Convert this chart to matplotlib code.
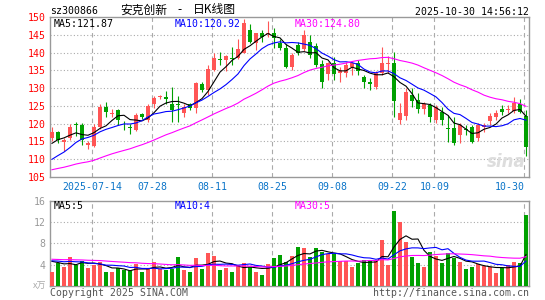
import matplotlib
matplotlib.use("Agg")
import matplotlib.pyplot as plt
import numpy as np

plt.rcParams["font.family"] = ["DejaVu Sans Mono"]

# daily candles, 2025-07-03 .. 2025-10-30 (80 trading days)
opens = [115.8, 117.6, 114.9, 115.8, 119.8, 119.6, 113.9, 113.7, 119.0, 124.6,
         122.6, 123.8, 120.0, 119.0, 118.3, 122.7, 120.9, 125.4, 127.5, 127.6,
         125.4, 125.6, 122.9, 125.4, 124.3, 131.2, 129.5, 135.1, 138.3, 137.9,
         138.6, 138.4, 140.0, 146.4, 142.8, 145.7, 145.2, 145.5, 142.7, 141.2,
         135.9, 142.2, 141.0, 143.1, 141.9, 136.8, 134.0, 137.2, 134.4, 134.2,
         136.1, 137.2, 133.2, 131.8, 130.2, 134.2, 136.9, 137.2, 121.0, 122.1,
         128.1, 126.7, 124.0, 125.2, 121.0, 123.4, 118.8, 118.7, 116.8, 118.5,
         119.1, 115.8, 119.0, 120.8, 121.8, 124.0, 123.8, 123.6, 125.5, 122.1]
highs = [118.9, 117.8, 116.0, 119.8, 120.4, 120.2, 115.0, 119.8, 125.4, 126.0,
         124.1, 124.2, 120.8, 119.9, 123.0, 123.0, 125.5, 127.8, 128.2, 129.3,
         130.4, 127.9, 125.4, 125.7, 131.8, 131.8, 136.5, 139.8, 140.3, 139.3,
         141.5, 143.8, 149.4, 148.1, 145.7, 146.4, 149.0, 146.9, 143.8, 142.6,
         139.8, 143.1, 146.5, 145.0, 142.7, 138.0, 137.5, 138.9, 136.1, 137.5,
         137.5, 138.0, 133.7, 132.8, 134.7, 141.7, 139.1, 140.3, 125.7, 130.0,
         130.0, 128.5, 126.2, 125.7, 125.2, 124.8, 122.4, 121.9, 120.1, 119.6,
         119.6, 120.1, 120.3, 122.9, 123.8, 125.2, 125.2, 127.4, 126.8, 123.8]
lows = [115.2, 114.4, 112.3, 115.4, 116.6, 114.0, 112.8, 113.3, 118.6, 121.8,
        121.8, 119.6, 118.2, 117.0, 118.0, 121.2, 120.5, 124.5, 127.0, 125.6,
        120.5, 120.4, 121.9, 123.8, 122.9, 129.0, 128.1, 134.7, 136.5, 134.7,
        136.5, 138.1, 139.8, 142.7, 140.8, 143.1, 144.5, 141.2, 140.8, 135.6,
        135.1, 139.4, 140.5, 138.4, 136.1, 130.0, 132.3, 132.3, 131.8, 133.2,
        133.7, 133.7, 130.0, 129.5, 129.7, 133.7, 134.2, 121.9, 119.9, 121.0,
        124.8, 122.9, 122.7, 120.5, 120.1, 119.6, 114.9, 113.9, 114.4, 116.8,
        114.4, 115.2, 117.7, 119.6, 121.0, 122.4, 122.9, 123.1, 122.9, 110.8]
closes = [117.7, 115.4, 115.4, 118.9, 119.5, 115.3, 114.4, 119.1, 124.8, 123.2,
          122.9, 121.0, 119.8, 118.7, 122.5, 121.8, 125.0, 127.3, 127.9, 127.0,
          123.9, 125.2, 124.8, 124.3, 131.4, 129.5, 135.3, 138.4, 138.0, 139.1,
          138.3, 141.0, 148.3, 143.1, 145.5, 144.5, 145.7, 144.1, 141.2, 136.1,
          139.4, 139.8, 145.0, 139.4, 136.5, 131.8, 137.2, 134.0, 134.9, 136.5,
          137.0, 134.7, 131.8, 131.2, 134.2, 137.0, 137.2, 126.5, 123.1, 129.0,
          126.5, 124.0, 125.5, 121.9, 124.6, 121.0, 118.6, 114.6, 119.6, 118.3,
          114.9, 119.6, 119.6, 122.1, 123.1, 123.4, 124.1, 125.9, 123.4, 113.5]
volumes = [2.6, 4.2, 3.6, 5.5, 3.9, 4.7, 3.4, 3.9, 4.5, 2.5,
           2.5, 3.3, 3.0, 2.8, 4.1, 2.6, 3.3, 4.5, 3.2, 3.0,
           3.2, 5.4, 3.0, 2.5, 5.3, 3.2, 6.2, 5.6, 3.0, 3.4,
           2.6, 3.9, 4.2, 3.6, 2.6, 2.0, 4.1, 5.3, 5.8, 4.5,
           5.6, 7.4, 7.1, 5.4, 7.2, 6.3, 6.0, 6.0, 4.6, 4.6,
           3.5, 4.3, 4.9, 4.9, 4.8, 8.7, 4.0, 14.2, 12.0, 8.2,
           5.5, 4.2, 3.5, 6.3, 5.7, 4.2, 6.1, 5.3, 4.5, 3.1,
           3.5, 4.1, 3.7, 3.5, 2.4, 3.4, 3.9, 4.5, 4.3, 13.3]

# sessions before the visible window, only needed for the moving averages
prior_closes = [104.5, 105.2, 106.0, 105.4, 104.8, 105.9, 106.3, 105.7, 104.9, 105.5,
                106.2, 105.8, 105.0, 104.6, 105.3, 106.1, 106.4, 105.6, 105.1, 105.7,
                104.8, 105.6, 106.1, 105.2, 105.3, 110.2, 112.9, 115.1, 116.2]
prior_volumes = [5.3, 4.9, 5.2, 5.0, 5.4, 5.1, 4.8, 5.3, 5.2, 5.0,
                 5.4, 5.1, 5.2, 4.9, 5.3, 5.0, 5.2, 5.1, 5.3, 5.1,
                 4.7, 4.9, 4.8, 4.6, 5.0, 5.3, 4.9, 5.2, 5.0]

tick_pos = [7, 17, 27, 37, 47, 57, 64, 79]
tick_labels = ["2025-07-14", "07-28", "08-11", "08-25", "09-08", "09-22", "10-09", "10-30"]
price_ticks = [105, 110, 115, 120, 125, 130, 135, 140, 145, 150]
vol_ticks = [4, 8, 12, 16]

RED = "#ff5555"
GREEN = "#00a000"
GRID = "#aaaaaa"
FRAME = "#999999"
W, H = 545, 300
FS = 7.1


def moving_average(values, prior, n):
    full = np.concatenate([prior, values])
    ma = np.convolve(full, np.ones(n) / n, mode="valid")
    return ma[-len(values):]


def box(l, t, r, b):
    return [l / W, 1 - b / H, (r - l) / W, (b - t) / H]


def ftext(x, y, s, **kw):
    fig.text(x / W, 1 - y / H, s, va="center", **kw)


fig = plt.figure(figsize=(W / 100, H / 100), dpi=100)
ax = fig.add_axes(box(49.7, 17.3, 529.3, 176.7))
axv = fig.add_axes(box(49.7, 201, 529.3, 285.7))

x = np.arange(len(closes))
o = np.array(opens)
c = np.array(closes)
up = c >= o
colors = np.where(up, RED, GREEN)

# price panel
ax.vlines(x, lows, highs, colors=colors, lw=0.8, zorder=3)
body = np.maximum(np.abs(c - o), 0.15)
ax.bar(x, body, 0.8, bottom=np.minimum(o, c), color=colors, lw=0, zorder=3)
ax.plot(x, moving_average(c, prior_closes, 5), color="black", lw=0.8, zorder=4)
ax.plot(x, moving_average(c, prior_closes, 10), color="#0000ff", lw=0.8, zorder=4)
ax.plot(x, moving_average(c, prior_closes, 30), color="#ff00ff", lw=0.8, zorder=4)
ax.set_ylim(105, 150)
for p in price_ticks[1:-1]:
    ax.axhline(p, color=GRID, lw=0.8, ls=(0, (1, 2)), zorder=1)

# volume panel
v = np.array(volumes)
axv.bar(x, v, 0.8, color=colors, lw=0, zorder=3)
axv.plot(x, moving_average(v, prior_volumes, 5), color="black", lw=0.8, zorder=4)
axv.plot(x, moving_average(v, prior_volumes, 10), color="#0000ff", lw=0.8, zorder=4)
axv.plot(x, moving_average(v, prior_volumes, 30), color="#ff00ff", lw=0.8, zorder=4)
axv.set_ylim(0, 16)
for p in vol_ticks[:-1]:
    axv.axhline(p, color=GRID, lw=0.8, ls=(0, (1, 2)), zorder=1)

for a in (ax, axv):
    a.set_xlim(-0.38, 79.55)
    for t in tick_pos:
        a.axvline(t - 0.28, color=GRID, lw=0.8, ls=(0, (4, 3)), zorder=1)
    for s in a.spines.values():
        s.set_color(FRAME)
        s.set_linewidth(1)
    a.tick_params(length=0, labelsize=FS)

ax.set_yticks(price_ticks)
ax.set_yticklabels([str(p) for p in price_ticks], color="#ff0000")
ax.tick_params(axis="y", pad=3)
ax.set_xticks([t - 0.28 for t in tick_pos])
ax.set_xticklabels(tick_labels, color="#0a74c8")
ax.get_xticklabels()[-1].set_horizontalalignment("right")
ax.tick_params(axis="x", pad=4)

axv.set_yticks(vol_ticks)
axv.set_yticklabels([str(p) for p in vol_ticks], color="#999999")
axv.tick_params(axis="y", pad=3)
axv.set_xticks([])

# header / labels
ftext(50, 11, "sz300866", fontsize=FS, color="black")
cjk = ["Noto Sans CJK SC", "DejaVu Sans"]
ftext(120, 10, "安克创新", fontsize=8.5, family=cjk, color="black")
ftext(180, 10, "-", fontsize=8.5, family=cjk, color="black", ha="center")
ftext(193, 10, "日K线图", fontsize=8.5, family=cjk, color="black")
ftext(529, 12, "2025-10-30 14:56:12", fontsize=FS, color="black", ha="right")

ftext(54, 24, "MA5:121.87", fontsize=FS, color="black")
ftext(175, 24, "MA10:120.92", fontsize=FS, color="#0000ff")
ftext(295, 24, "MA30:124.80", fontsize=FS, color="#ff00ff")
ftext(54, 206, "MA5:5", fontsize=FS, color="black")
ftext(175, 206, "MA10:4", fontsize=FS, color="#0000ff")
ftext(295, 206, "MA30:5", fontsize=FS, color="#ff00ff")

ftext(46, 286, "x万", fontsize=6.5, family=cjk, color="#aaaaaa", ha="right")
ftext(50, 293, "Copyright 2025 SINA.COM", fontsize=FS, color="#555555")
ftext(529, 293, "http://finance.sina.com.cn", fontsize=FS, color="#555555", ha="right")
ftext(506, 162, "sina", fontsize=12, color="#dddddd", ha="center",
      family="DejaVu Sans", style="italic", weight="bold")

fig.savefig("out.png", dpi=100)
